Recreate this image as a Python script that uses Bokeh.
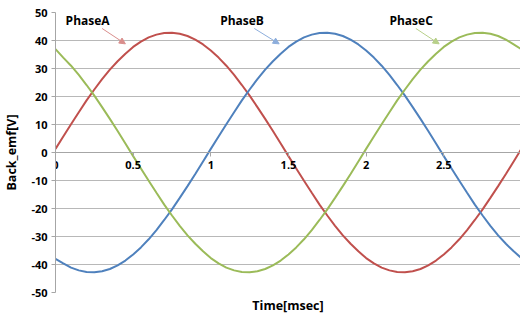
from bokeh.plotting import figure
from bokeh.models import (ColumnDataSource, Range1d, FixedTicker, Label, Arrow,
                          NormalHead, Title)
from bokeh.embed import file_html
from bokeh.resources import INLINE

# ---- data ----
time_ms = [round(0.05 * k, 2) for k in range(61)]
phase_a = [1.3, 5.7, 10.1, 14.4, 18.6, 22.5, 26.2, 29.6, 32.6, 35.3,
           37.7, 39.6, 41.1, 42.1, 42.7, 42.8, 42.4, 41.6, 40.3, 38.6,
           36.4, 33.9, 31.0, 27.7, 24.1, 20.3, 16.2, 12.0, 7.7, 3.2,
           -1.3, -5.7, -10.1, -14.4, -18.6, -22.5, -26.2, -29.6, -32.6, -35.3,
           -37.7, -39.6, -41.1, -42.1, -42.7, -42.8, -42.4, -41.6, -40.3, -38.6,
           -36.4, -33.9, -31.0, -27.7, -24.1, -20.3, -16.2, -12.0, -7.7, -3.2,
           1.3]
phase_b = [-38.0, -39.6, -41.1, -42.1, -42.7, -42.8, -42.4, -41.6, -40.3, -38.6,
           -36.4, -33.9, -31.0, -27.7, -24.1, -20.3, -16.2, -12.0, -7.7, -3.2,
           1.3, 5.7, 10.1, 14.4, 18.6, 22.5, 26.2, 29.6, 32.6, 35.3,
           37.7, 39.6, 41.1, 42.1, 42.7, 42.8, 42.4, 41.6, 40.3, 38.6,
           36.4, 33.9, 31.0, 27.7, 24.1, 20.3, 16.2, 12.0, 7.7, 3.2,
           -1.3, -5.7, -10.1, -14.4, -18.6, -22.5, -26.2, -29.6, -32.6, -35.3,
           -37.7]
phase_c = [36.9, 33.9, 31.0, 27.7, 24.1, 20.3, 16.2, 12.0, 7.7, 3.2,
           -1.3, -5.7, -10.1, -14.4, -18.6, -22.5, -26.2, -29.6, -32.6, -35.3,
           -37.7, -39.6, -41.1, -42.1, -42.7, -42.8, -42.4, -41.6, -40.3, -38.6,
           -36.4, -33.9, -31.0, -27.7, -24.1, -20.3, -16.2, -12.0, -7.7, -3.2,
           1.3, 5.7, 10.1, 14.4, 18.6, 22.5, 26.2, 29.6, 32.6, 35.3,
           37.7, 39.6, 41.1, 42.1, 42.7, 42.8, 42.4, 41.6, 40.3, 38.6,
           36.9]

series_names = ["PhaseA", "PhaseB", "PhaseC"]
series_colors = ["#C0504D", "#4F81BD", "#9BBB59"]
arrow_colors = ["#D98E8C", "#8DAEDC", "#B8D08A"]

x_ticks = [0, 0.5, 1, 1.5, 2, 2.5, 3]
x_tick_labels = ["0", "0.5", "1", "1.5", "2", "2.5", "3"]
y_ticks = [-50, -40, -30, -20, -10, 0, 10, 20, 30, 40, 50]
y_tick_labels = ["-50", "-40", "-30", "-20", "-10", "0", "10", "20", "30", "40", "50"]

# annotation anchors (data coords)
label_x = [0.065, 1.06, 2.15]
label_y = [47.0, 47.0, 47.0]
arrow_start_x = [0.30, 1.28, 2.32]
arrow_start_y = [44.3, 44.3, 44.3]
arrow_end_x = [0.45, 1.44, 2.47]
arrow_end_y = [38.8, 38.8, 38.8]

FONT = "Open Sans"

p = figure(width=520, height=318, output_backend="svg", toolbar_location=None,
           x_range=Range1d(0, 2.994), y_range=Range1d(-50, 50),
           min_border_left=53, min_border_right=0, min_border_top=12,
           min_border_bottom=26)
p.outline_line_color = None
p.background_fill_color = "white"
p.border_fill_color = "white"

src = ColumnDataSource(dict(t=time_ms, a=phase_a, b=phase_b, c=phase_c))
for col, color in zip(["a", "b", "c"], series_colors):
    p.line("t", col, source=src, line_color=color, line_width=2.0)

# grids
p.xgrid.visible = False
p.ygrid.ticker = FixedTicker(ticks=y_ticks)
p.ygrid.grid_line_color = "#B8B8B8"
p.ygrid.grid_line_width = 1

# x axis at y=0
xa = p.xaxis[0]
xa.fixed_location = 0
xa.ticker = FixedTicker(ticks=x_ticks)
xa.major_label_overrides = {t: s for t, s in zip(x_ticks, x_tick_labels)}
xa.axis_line_color = "#A6A6A6"
xa.major_tick_line_color = "#A6A6A6"
xa.major_tick_in = 0
xa.major_tick_out = 4
xa.minor_tick_line_color = None
xa.major_label_text_font = FONT
xa.major_label_text_font_style = "bold"
xa.major_label_text_font_size = "11px"
xa.major_label_text_color = "black"
xa.major_label_standoff = 4

ya = p.yaxis[0]
ya.ticker = FixedTicker(ticks=y_ticks)
ya.major_label_overrides = {t: s for t, s in zip(y_ticks, y_tick_labels)}
ya.axis_line_color = "#A6A6A6"
ya.major_tick_line_color = "#A6A6A6"
ya.major_tick_in = 0
ya.major_tick_out = 4
ya.minor_tick_line_color = None
ya.major_label_text_font = FONT
ya.major_label_text_font_style = "bold"
ya.major_label_text_font_size = "11px"
ya.major_label_text_color = "black"
ya.major_label_standoff = 4
ya.axis_label = "Back_emf[V]"
ya.axis_label_text_font = FONT
ya.axis_label_text_font_style = "bold"
ya.axis_label_text_font_size = "12.5px"
ya.axis_label_text_color = "black"
ya.axis_label_standoff = 8

p.add_layout(Title(text="Time[msec]", align="center", text_font=FONT,
                   text_font_style="bold", text_font_size="12.5px",
                   text_color="black", standoff=4), "below")

for i in range(3):
    p.add_layout(Label(x=label_x[i], y=label_y[i], text=series_names[i],
                       text_font=FONT, text_font_style="bold",
                       text_font_size="12px", text_color="black",
                       text_baseline="middle", text_align="left"))
    p.add_layout(Arrow(x_start=arrow_start_x[i], y_start=arrow_start_y[i],
                       x_end=arrow_end_x[i], y_end=arrow_end_y[i],
                       line_color=arrow_colors[i], line_width=1,
                       end=NormalHead(size=6, fill_color=arrow_colors[i],
                                      line_color=arrow_colors[i])))

open("out.html", "w").write(file_html(p, INLINE))
